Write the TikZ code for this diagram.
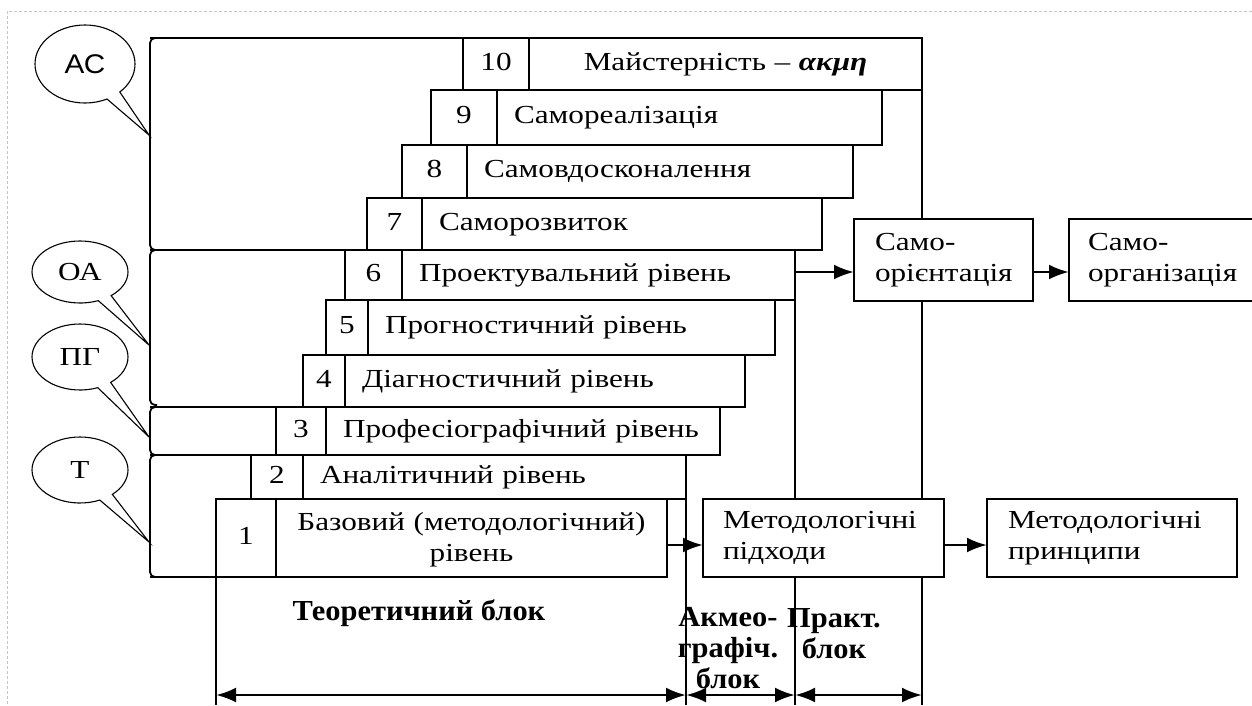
\documentclass[tikz,border=0pt]{standalone}
\usepackage{fontspec}
\setmainfont{Liberation Serif}[FakeStretch=1.2]
\newfontfamily\blockfont{Liberation Serif}[FakeStretch=1.05]
\newfontfamily\bubblesans{Liberation Sans}[FakeStretch=1.1]
\usepackage{tikz}
\usetikzlibrary{arrows.meta,shapes.callouts}

\begin{document}
\begin{tikzpicture}[x=1pt,y=-1pt,font=\fontsize{26}{31}\selectfont,
		box/.style={draw, line width=1.8pt, fill=white, outer sep=0pt, inner sep=0pt, anchor=north west},
		bubble/.style={ellipse callout, draw, line width=1.1pt, fill=white, inner sep=0pt, callout pointer arc=18},
		ln/.style={line width=1.8pt},
		arr/.style={-{Latex[length=20pt,width=15pt]}, line width=2.8pt},
		dbl/.style={{Latex[length=20pt,width=15pt]}-{Latex[length=20pt,width=15pt]}, line width=2.8pt},
		lbl/.style={font=\blockfont\bfseries\fontsize{29}{31}\selectfont, inner sep=0pt}]
				\fill[white] (0,0) rectangle (1252,705);
				\useasboundingbox (0,0) rectangle (1252,705);
				\draw[gray!45, densely dashed, line width=1pt] (1252,11) -- (7,11) -- (7,705);
				
				% levels 10 ... 1
				\foreach \n/\xa/\xb/\xc/\ya/\yb/\al/\txt in
				{10/463/529/922/38/90/center/{Майстерність – \textbf{\textit{ακμη}}},
				 9/431/497/882/90/145/left/Самореалізація,
				 8/402/467/853/145/198/left/Самовдосконалення,
				 7/367/422/822/198/250/left/Саморозвиток,
				 6/345/402/795/250/300/left/Проектувальний рівень,
				 5/326/368/775/300/355/left/Прогностичний рівень,
				 4/303/345/745/355/407/left/Діагностичний рівень,
				 3/276/326/720/407/455/left/Професіографічний рівень,
				 2/251/303/686/455/499/left/Аналітичний рівень,
				 1/216/276/667/499/577/center/{Базовий (методологічний)\\рівень}}{
					\pgfmathsetmacro\tw{\xc-\xb-34}
					\node[box, minimum width={(\xb-\xa)*1pt}, minimum height={(\yb-\ya)*1pt}] (c\n) at (\xa,\ya) {\strut\n};
					\node[box, inner xsep=17pt, text width=\tw pt, align=\al, minimum height={(\yb-\ya)*1pt}] (t\n) at (\xb,\ya) {\strut\txt};
				}
				
				% brackets
				\foreach \nm/\ya/\yb in
				{as/38/250, oa/250/405, pg/407/455, tt/455/577}{
					\coordinate (\nm a) at (150,\ya);
					\coordinate (\nm b) at (150,\yb);
					\draw[ln, rounded corners=5pt] (157,\ya) -- (\nm a) -- (\nm b) -- (157,\yb);
				}
				\draw[ln] (asa) -- (c10.north west);
				\draw[ln] (oaa) -- (c7.south west);
				\draw[ln] (pga) -- (c4.south west);
				\draw[ln] (tta) -- (c3.south west);
				\draw[ln] (ttb) -- (c1.south west);
				
				% bubbles
				\coordinate (pas) at (149,135);
				\coordinate (poa) at (149,345);
				\coordinate (ppg) at (149,437);
				\coordinate (ptt) at (149,542);
				\node[bubble, minimum width=100pt, minimum height=78pt, callout absolute pointer={(pas)}, font=\bubblesans\fontsize{27}{30}\selectfont] (as) at (85,64) {АС};
				\node[bubble, minimum width=96pt, minimum height=62pt, callout absolute pointer={(poa)}] (oa) at (80,272) {ОА};
				\node[bubble, minimum width=96pt, minimum height=66pt, callout absolute pointer={(ppg)}] (pg) at (80,357) {ПГ};
				\node[bubble, minimum width=96pt, minimum height=66pt, callout absolute pointer={(ptt)}] (tt) at (80,470) {Т};
				
				% block borders
				\foreach \x/\y in
				{1/216, 2/686, 3/795, 4/922}{
					\coordinate (e\x) at (\y,705);
					\coordinate (d\x) at (\y,695);
				}
				\draw[ln] (c1.south west) -- (e1);
				\draw[ln] (t2.south east) -- (e2);
				\draw[ln] (t6.south east) -- (e3);
				\draw[ln] (t10.south east) -- (e4);
				
				% right boxes
				\node[box, minimum width=179pt, minimum height=82pt, inner xsep=21pt, text width=137pt, align=left] (so) at (854,219) {Само-\\орієнтація};
				\node[box, minimum width=200pt, minimum height=82pt, inner xsep=19pt, text width=162pt, align=left] (sorg) at (1069,219) {Само-\\організація};
				\node[box, minimum width=241pt, minimum height=78pt, inner xsep=20pt, text width=201pt, align=left] (mp) at (703,499) {Методологічні\\підходи};
				\node[box, minimum width=250pt, minimum height=78pt, inner xsep=21pt, text width=208pt, align=left] (mpr) at (987,499) {Методологічні\\принципи};
				
				\draw[arr] ([yshift=3pt]t6.east) -- ([yshift=3pt]t6.east -| so.west);
				\draw[arr] ([yshift=3pt]so.east |- t6.east) -- ([yshift=3pt]sorg.west |- t6.east);
				\draw[arr] ([yshift=-7pt]t1.east) -- ([yshift=-7pt]t1.east -| mp.west);
				\draw[arr] ([yshift=-7pt]mp.east) -- ([yshift=-7pt]mp.east -| mpr.west);
				
				% blocks
				\node[lbl] (tb) at (419,613) {Теоретичний блок};
				\node[lbl, align=center] (ab) at (728,648) {Акмео-\\графіч.\\блок};
				\node[lbl, align=center] (pb) at (834,634) {Практ.\\блок};
				\draw[dbl] (d1) -- (d2);
				\draw[dbl] (d2) -- (d3);
				\draw[dbl] (d3) -- (d4);
			\end{tikzpicture}
\end{document}
